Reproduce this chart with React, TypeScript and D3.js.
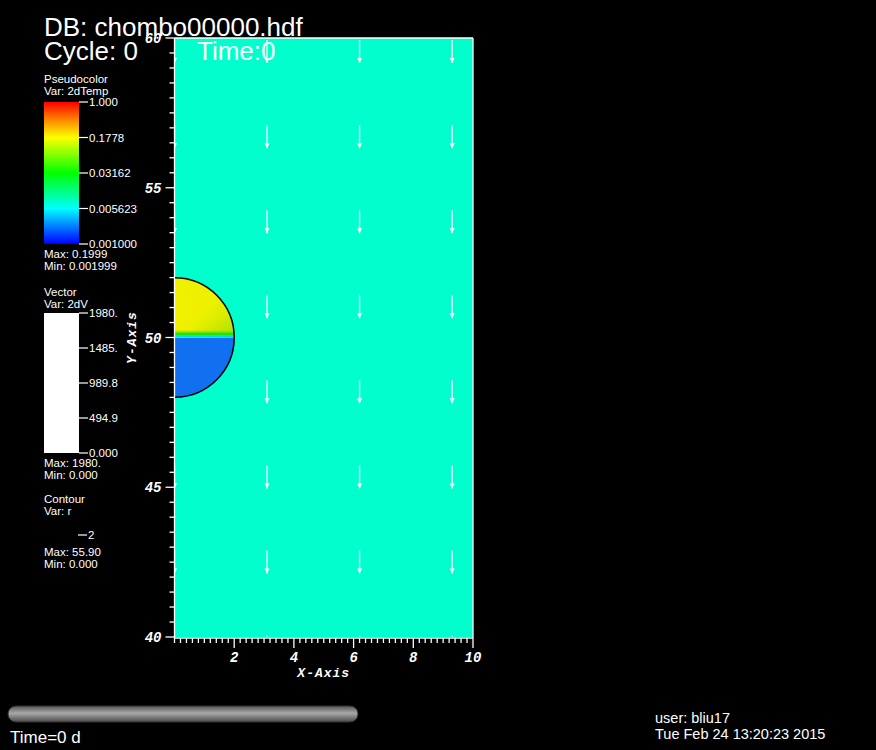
import React from 'react';
import * as d3 from 'd3';

// axis ticks
const xMajorTicks = [2, 4, 6, 8, 10];
const yMajorTicks = [40, 45, 50, 55, 60];
const xMinorStep = 0.2;
const yMinorStep = 0.5;

// pseudocolor legend
const tempTickLabels = ['1.000', '0.1778', '0.03162', '0.005623', '0.001000'];
const tempColors = ['#ff0000', '#ff8000', '#ffff00', '#00ff00', '#00ffff', '#0000ff'];
const tempColorOffsets = [0, 0.12, 0.25, 0.5, 0.75, 1];

// vector legend
const vecTickLabels = ['1980.', '1485.', '989.8', '494.9', '0.000'];

// vector glyph grid (data units) and y-velocity
const vecColumns = [0, 3.1, 6.2, 9.3];
const vecRows = [59.93, 57.09, 54.25, 51.41, 48.57, 45.73, 42.89, 40.05];
const vecMagnitude = 1980;

// bubble (contour r = 2)
const bubbleCenter = { x: 0, y: 50 };
const bubbleRadius = 2;
const upperAngles = [0, 45, 65, 80, 90];
const upperColors = ['#f0f000', '#eef000', '#d8ec00', '#b4e400', '#90e000'];

const W = 876;
const H = 750;
const sans = '"Liberation Sans", Arial, sans-serif';
const mono = '"Liberation Mono", "Courier New", monospace';
const narrow = '"Liberation Sans Narrow", "Liberation Sans", Arial, sans-serif';

const x = d3.scaleLinear().domain([0, 10]).range([174.5, 473]);
const y = d3.scaleLinear().domain([40, 60]).range([637, 38]);

const App: React.FC = () => {
    const [x0, x1] = x.range();
    const [yb, yt] = y.range();

    const xMinor = d3.range(0, 10 + 1e-9, xMinorStep);
    const yMinor = d3.range(40, 60 + 1e-9, yMinorStep);

    const cx = x(bubbleCenter.x);
    const cy = y(bubbleCenter.y);
    const r = x(bubbleRadius) - x(0);

    const wedgeArc = d3.arc<{ a0: number; a1: number }>()
        .innerRadius(0)
        .outerRadius(r + 2)
        .startAngle(d => (d.a0 * Math.PI) / 180)
        .endAngle(d => (d.a1 * Math.PI) / 180);
    const wedgeColor = d3.scaleLinear<string>().domain(upperAngles).range(upperColors);
    const wedges = d3.range(0, 90, 3).map(a => ({ a0: a, a1: a + 3.2, c: wedgeColor(a + 1.5) }));

    const bubblePath = d3.path();
    bubblePath.moveTo(cx, cy - r);
    bubblePath.arc(cx, cy, r, -Math.PI / 2, Math.PI / 2);

    const arrowScale = 23 / vecMagnitude; // pixels per unit
    const arrows = vecColumns.flatMap(vx => vecRows.map(vy => ({ vx, vy })))
        .filter(d => Math.hypot(d.vx - bubbleCenter.x, d.vy - bubbleCenter.y) > bubbleRadius);

    const cbX = 44, cbW = 35, cbTop = 102, cbBot = 244;
    const cbY = d3.scaleLinear().domain([0, tempTickLabels.length - 1]).range([cbTop, cbBot]);
    const vbTop = 313, vbBot = 453;
    const vbY = d3.scaleLinear().domain([0, vecTickLabels.length - 1]).range([vbTop, vbBot]);

    return (
        <svg width={W} height={H} style={{ position: 'absolute', left: 0, top: 0, display: 'block' }}>
            <defs>
                <linearGradient id="tempGrad" x1="0" y1="0" x2="0" y2="1">
                    {tempColors.map((c, i) => (
                        <stop key={i} offset={tempColorOffsets[i]} stopColor={c} />
                    ))}
                </linearGradient>
                <linearGradient id="sliderGrad" x1="0" y1="0" x2="0" y2="1">
                    <stop offset="0" stopColor="#555" />
                    <stop offset="0.45" stopColor="#a8a8a8" />
                    <stop offset="1" stopColor="#4a4a4a" />
                </linearGradient>
                <linearGradient id="stripGrad" x1="0" y1="0" x2="0" y2="1">
                    <stop offset="0" stopColor="#b8e800" stopOpacity="0" />
                    <stop offset="0.45" stopColor="#40e000" />
                    <stop offset="0.7" stopColor="#10e000" />
                    <stop offset="0.75" stopColor="#00e8d0" />
                    <stop offset="1" stopColor="#00d8f0" />
                </linearGradient>
                <radialGradient id="coreGrad" cx={cx} cy={cy} r={r} gradientUnits="userSpaceOnUse">
                    <stop offset="0" stopColor="#f0f000" stopOpacity="1" />
                    <stop offset="0.5" stopColor="#f0f000" stopOpacity="0.5" />
                    <stop offset="1" stopColor="#f0f000" stopOpacity="0" />
                </radialGradient>
                <clipPath id="upperClip">
                    <rect x={cx} y={cy - r} width={r + 1} height={r} />
                </clipPath>
                <clipPath id="bubbleClip">
                    <path d={bubblePath.toString() + 'Z'} />
                </clipPath>
                <clipPath id="plotClip">
                    <rect x={x0} y={yt} width={x1 - x0} height={yb - yt} />
                </clipPath>
            </defs>

            <rect width={W} height={H} fill="#000" />

            {/* field */}
            <rect x={x0} y={yt} width={x1 - x0} height={yb - yt} fill="#00ffcc" />

            <g clipPath="url(#bubbleClip)">
                <rect x={cx} y={cy} width={r + 1} height={r + 1} fill="#1070f0" />
                <g clipPath="url(#upperClip)">
                    <rect x={cx} y={cy - r} width={r + 1} height={r} fill="#f0f000" />
                    {wedges.map((w, i) => (
                        <path key={i} d={wedgeArc(w) ?? ''} transform={`translate(${cx},${cy})`} fill={w.c} />
                    ))}
                    <circle cx={cx} cy={cy} r={r} fill="url(#coreGrad)" />
                    <rect x={cx} y={cy - 8} width={r + 1} height={8} fill="url(#stripGrad)" />
                </g>
            </g>
            <path d={bubblePath.toString()} fill="none" stroke="#000" strokeWidth={1.5} />

            {/* vectors */}
            <g clipPath="url(#plotClip)" stroke="#fff" fill="#fff">
                {arrows.map((d, i) => {
                    const px = x(d.vx);
                    const py = y(d.vy);
                    const len = vecMagnitude * arrowScale;
                    return (
                        <g key={i}>
                            <line x1={px} y1={py} x2={px} y2={py + len} strokeWidth={1.3} />
                            <path d={`M${px - 2.5},${py + len - 5}L${px + 2.5},${py + len - 5}L${px},${py + len}Z`} stroke="none" />
                        </g>
                    );
                })}
            </g>

            {/* plot frame */}
            <g stroke="#fff" strokeWidth={1.3} fill="none">
                <line x1={x0} y1={yt} x2={x0} y2={yb + 1} />
                <line x1={x0} y1={yt} x2={x1} y2={yt} />
                <line x1={x1} y1={yt} x2={x1} y2={yb + 1} />
                <line x1={x0} y1={yb + 1} x2={x1} y2={yb + 1} />
            </g>

            {/* y axis */}
            <g stroke="#fff" strokeWidth={1.3}>
                {yMinor.map((t, i) => {
                    const major = yMajorTicks.some(m => Math.abs(m - t) < 1e-6);
                    return <line key={i} x1={x0 - (major ? 9 : 5)} x2={x0} y1={y(t)} y2={y(t)} />;
                })}
            </g>
            <g fill="#fff" fontFamily={mono} fontWeight="bold" fontStyle="italic" fontSize={14} textAnchor="end">
                {yMajorTicks.map(t => (
                    <text key={t} x={x0 - 13} y={y(t) + 5}>{t}</text>
                ))}
            </g>
            <text
                transform={`translate(136,${(yt + yb) / 2}) rotate(-90)`}
                fill="#fff" fontFamily={mono} fontWeight="bold" fontStyle="italic" fontSize={13}
                letterSpacing={1} textAnchor="middle"
            >Y-Axis</text>

            {/* x axis */}
            <g stroke="#fff" strokeWidth={1.3}>
                {xMinor.map((t, i) => {
                    const major = xMajorTicks.some(m => Math.abs(m - t) < 1e-6);
                    return <line key={i} x1={x(t)} x2={x(t)} y1={yb + 1} y2={yb + 1 + (major ? 10 : 5)} />;
                })}
            </g>
            <g fill="#fff" fontFamily={mono} fontWeight="bold" fontStyle="italic" fontSize={14} textAnchor="middle">
                {xMajorTicks.map(t => (
                    <text key={t} x={x(t)} y={yb + 25}>{t}</text>
                ))}
            </g>
            <text x={(x0 + x1) / 2} y={yb + 40} fill="#fff" fontFamily={mono} fontWeight="bold"
                fontStyle="italic" fontSize={13} letterSpacing={1} textAnchor="middle">X-Axis</text>

            {/* titles */}
            <g fill="#fff" fontFamily={sans} fontSize={26}>
                <text x={44} y={36}>DB: chombo00000.hdf</text>
                <text x={44} y={60}>Cycle: 0</text>
                <text x={197} y={60}>Time:0</text>
            </g>

            {/* pseudocolor legend */}
            <g fill="#fff" fontFamily={sans} fontSize={11.5}>
                <text x={44} y={83}>Pseudocolor</text>
                <text x={44} y={95}>Var: 2dTemp</text>
                <text x={44} y={258}>Max:  0.1999</text>
                <text x={44} y={270}>Min:  0.001999</text>
            </g>
            <rect x={cbX} y={cbTop} width={cbW} height={cbBot - cbTop} fill="url(#tempGrad)" />
            {tempTickLabels.map((l, i) => (
                <g key={l}>
                    <line x1={cbX + cbW} x2={cbX + cbW + 9} y1={cbY(i)} y2={cbY(i)} stroke="#fff" strokeWidth={1.2} />
                    <text x={cbX + cbW + 10} y={cbY(i) + 4} fill="#fff" fontFamily={sans} fontSize={11.5}>{l}</text>
                </g>
            ))}

            {/* vector legend */}
            <g fill="#fff" fontFamily={sans} fontSize={11.5}>
                <text x={44} y={296}>Vector</text>
                <text x={44} y={308}>Var: 2dV</text>
                <text x={44} y={467}>Max:  1980.</text>
                <text x={44} y={479}>Min:  0.000</text>
            </g>
            <rect x={cbX} y={vbTop} width={cbW} height={vbBot - vbTop} fill="#fff" />
            {vecTickLabels.map((l, i) => (
                <g key={l}>
                    <line x1={cbX + cbW} x2={cbX + cbW + 9} y1={vbY(i)} y2={vbY(i)} stroke="#fff" strokeWidth={1.2} />
                    <text x={cbX + cbW + 10} y={vbY(i) + 4} fill="#fff" fontFamily={sans} fontSize={11.5}>{l}</text>
                </g>
            ))}

            {/* contour legend */}
            <g fill="#fff" fontFamily={sans} fontSize={11.5}>
                <text x={44} y={503}>Contour</text>
                <text x={44} y={515}>Var: r</text>
                <text x={88} y={539}>2</text>
                <text x={44} y={556}>Max:  55.90</text>
                <text x={44} y={568}>Min:  0.000</text>
            </g>
            <line x1={78} x2={87} y1={535} y2={535} stroke="#fff" strokeWidth={1.2} />

            {/* time slider */}
            <rect x={8} y={706} width={350} height={16} rx={8} fill="url(#sliderGrad)" stroke="#333" strokeWidth={1} />
            <text x={10} y={743} fill="#fff" fontFamily={narrow} fontSize={17}>Time=0 d</text>

            {/* user info */}
            <g fill="#fff" fontFamily={narrow} fontSize={14.5}>
                <text x={655} y={723}>user: bliu17</text>
                <text x={655} y={739}>Tue Feb 24 13:20:23 2015</text>
            </g>
        </svg>
    );
};

export default App;
